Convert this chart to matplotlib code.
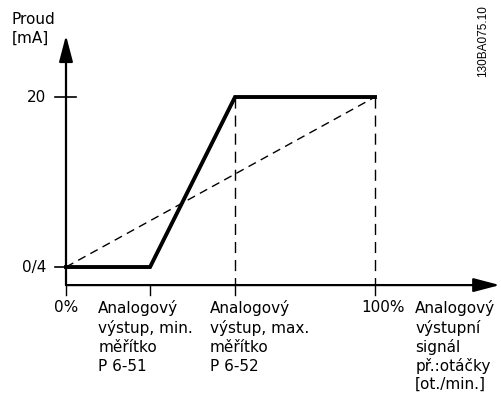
import matplotlib.pyplot as plt

# Output scaling: analog output current versus signal (% of range)
signal_pct = [0, 27.2, 54.7, 100]
current_ma = [4, 4, 20, 20]
linear_pct = [0, 100]
linear_ma = [4, 20]
guide_pct = [54.7, 100]          # dashed drop lines from the 20 mA level

y_ticks = [4, 20]
y_tick_labels = ["0/4", "20"]
x_labels = ["0%", "Analogový\nvýstup, min.\nměřítko\nP 6-51",
            "Analogový\nvýstup, max.\nměřítko\nP 6-52", "100%",
            "Analogový\nvýstupní\nsignál\npř.:otáčky\n[ot./min.]"]

fig = plt.figure(figsize=(5.02, 3.94), dpi=100)
ax = fig.add_axes([0, 0, 1, 1])
ax.set_xlim(-21.36, 141.1)
ax.set_ylim(-7.95, 29.13)
ax.axis("off")

y_axis = 2.3
fs = 11

# axes with arrow heads
ax.annotate("", xy=(0, 25.8), xytext=(0, y_axis),
            arrowprops=dict(arrowstyle="-|>,head_length=1.6,head_width=0.42",
                            lw=1.6, color="black", shrinkA=0, shrinkB=0))
ax.annotate("", xy=(140.4, y_axis), xytext=(0, y_axis),
            arrowprops=dict(arrowstyle="-|>,head_length=1.6,head_width=0.42",
                            lw=1.6, color="black", shrinkA=0, shrinkB=0))

# y ticks
ax.plot([-3.6, 0], [4, 4], color="black", lw=1.2)
ax.plot([-3.6, 3.3], [20, 20], color="black", lw=1.2)
for val, lab in zip(y_ticks, y_tick_labels):
    ax.text(-6.5, val, lab, ha="right", va="center", fontsize=fs)

# x ticks below the axis
for xv in signal_pct:
    ax.plot([xv, xv], [y_axis, y_axis - 0.95], color="black", lw=1.0)

# curves
ax.plot(linear_pct, linear_ma, color="black", lw=1.0, ls=(0, (6, 4)))
for xv in guide_pct:
    ax.plot([xv, xv], [20, y_axis], color="black", lw=1.0, ls=(0, (8, 5)))
ax.plot(signal_pct, current_ma, color="black", lw=2.8, solid_joinstyle="miter")

# labels along the x axis
label_top = 2.3 - 1.45
ax.text(0, label_top, x_labels[0], ha="center", va="top", fontsize=fs)
ax.text(10.4, label_top, x_labels[1], ha="left", va="top", fontsize=fs, linespacing=1.3)
ax.text(46.6, label_top, x_labels[2], ha="left", va="top", fontsize=fs, linespacing=1.3)
ax.text(102.5, label_top, x_labels[3], ha="center", va="top", fontsize=fs)
ax.text(113.0, label_top, x_labels[4], ha="left", va="top", fontsize=fs, linespacing=1.25)

# y axis title
ax.text(-17.6, 28.0, "Proud\n[mA]", ha="left", va="top", fontsize=fs, linespacing=1.3)

# drawing number
fig.text(0.963, 0.988, "130BA075.10", rotation=90, ha="center", va="top",
         fontsize=8.5, family="Liberation Sans")

fig.savefig("out.png", dpi=100)
